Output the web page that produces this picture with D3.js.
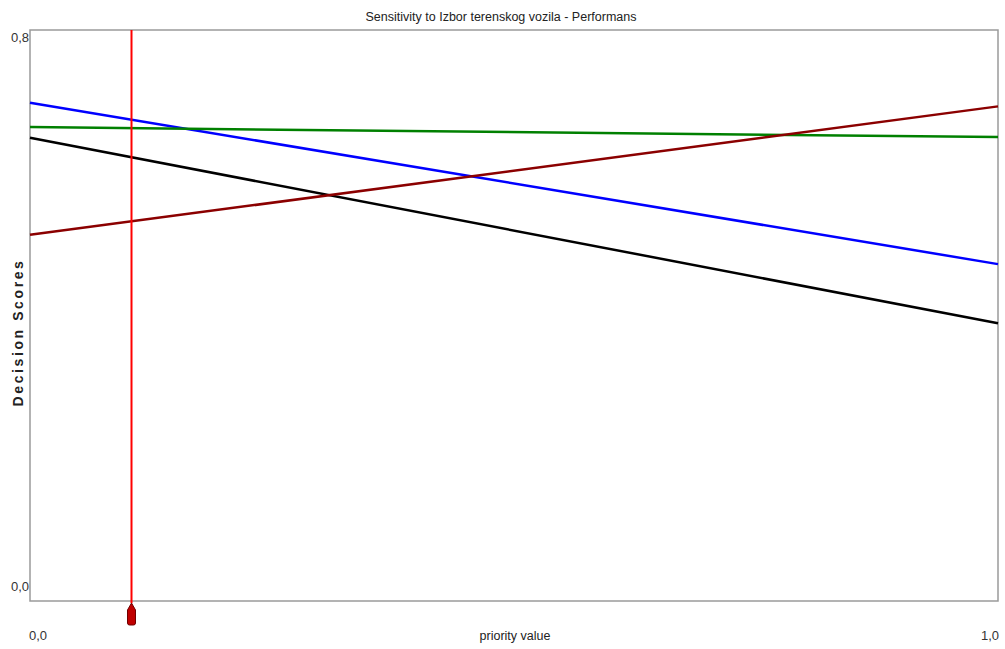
<!DOCTYPE html>
<html><head><meta charset="utf-8">
<script src="https://cdn.jsdelivr.net/npm/d3@7"></script>
<style>body{margin:0;background:#fff}svg{display:block}</style>
</head><body><svg id="c" width="1005" height="649"></svg>
<script>
const title = "Sensitivity to Izbor terenskog vozila - Performans";
const priorityDomain = [0, 1];
const scoreDomain = [0, 0.8];
const seriesNames = ["Alt1", "Alt2", "Alt3", "Alt4"];
const seriesColors = ["#0000ff", "#008000", "#000000", "#8b0000"];
const startScores = [0.698, 0.664, 0.649, 0.513];
const endScores = [0.472, 0.650, 0.389, 0.693];
const currentPriority = 0.104;
const yTickLabels = ["0,0", "0,8"];
const xTickLabels = ["0,0", "1,0"];

const svg = d3.select("#c");
const m = {l: 30, r: 998, t: 30, b: 601};
const x = d3.scaleLinear().domain(priorityDomain).range([m.l, m.r]);
const y = d3.scaleLinear().domain(scoreDomain).range([m.b, m.t]);
const font = "'Liberation Sans Narrow', 'Arial Narrow', 'Liberation Sans', Arial, sans-serif";

svg.append("text").attr("x", 501).attr("y", 21).attr("text-anchor", "middle")
  .attr("font-family", font).attr("font-size", 12.5).attr("fill", "#222").text(title);

svg.append("rect").attr("x", m.l).attr("y", m.t).attr("width", m.r - m.l).attr("height", m.b - m.t)
  .attr("fill", "none").attr("stroke", "#9a9a9a").attr("stroke-width", 1.5);

const line = d3.line().x(d => x(d[0])).y(d => y(d[1]));
seriesNames.forEach((n, i) => {
  svg.append("path").datum([[0, startScores[i]], [1, endScores[i]]])
    .attr("d", line).attr("fill", "none").attr("stroke", seriesColors[i]).attr("stroke-width", 2.5);
});

[0, 0.8].forEach((v, i) => {
  svg.append("text").attr("x", m.l - 1).attr("y", y(v) + (i === 0 ? -10 : 12))
    .attr("text-anchor", "end").attr("font-family", font).attr("font-size", 13).attr("fill", "#333")
    .text(yTickLabels[i]);
});
[0, 1].forEach((v, i) => {
  svg.append("text").attr("x", x(v) + (i === 0 ? 8 : -8)).attr("y", 640)
    .attr("text-anchor", "middle").attr("font-family", font).attr("font-size", 13).attr("fill", "#333")
    .text(xTickLabels[i]);
});
svg.append("text").attr("x", 515).attr("y", 640).attr("text-anchor", "middle")
  .attr("font-family", font).attr("font-size", 12.5).attr("fill", "#222").text("priority value");

svg.append("text").attr("transform", `translate(23,${(m.t + m.b) / 2 + 17}) rotate(-90)`)
  .attr("text-anchor", "middle").attr("font-family", "'Liberation Sans', Arial, sans-serif")
  .attr("font-weight", "bold").attr("font-size", 14).attr("letter-spacing", 2.6)
  .attr("fill", "#222").text("Decision Scores");

const px = Math.round(x(currentPriority)) + 0.5;
svg.append("line").attr("x1", px).attr("x2", px).attr("y1", m.t).attr("y2", m.b + 2)
  .attr("stroke", "#ff0000").attr("stroke-width", 2);
svg.append("path")
  .attr("d", `M${px - 4},${m.b + 9} L${px},${m.b + 2} L${px + 4},${m.b + 9} L${px + 4},${m.b + 22} Q${px + 4},${m.b + 24} ${px + 2},${m.b + 24} L${px - 2},${m.b + 24} Q${px - 4},${m.b + 24} ${px - 4},${m.b + 22} Z`)
  .attr("fill", "#c00000").attr("stroke", "#700000").attr("stroke-width", 1);
</script></body></html>
